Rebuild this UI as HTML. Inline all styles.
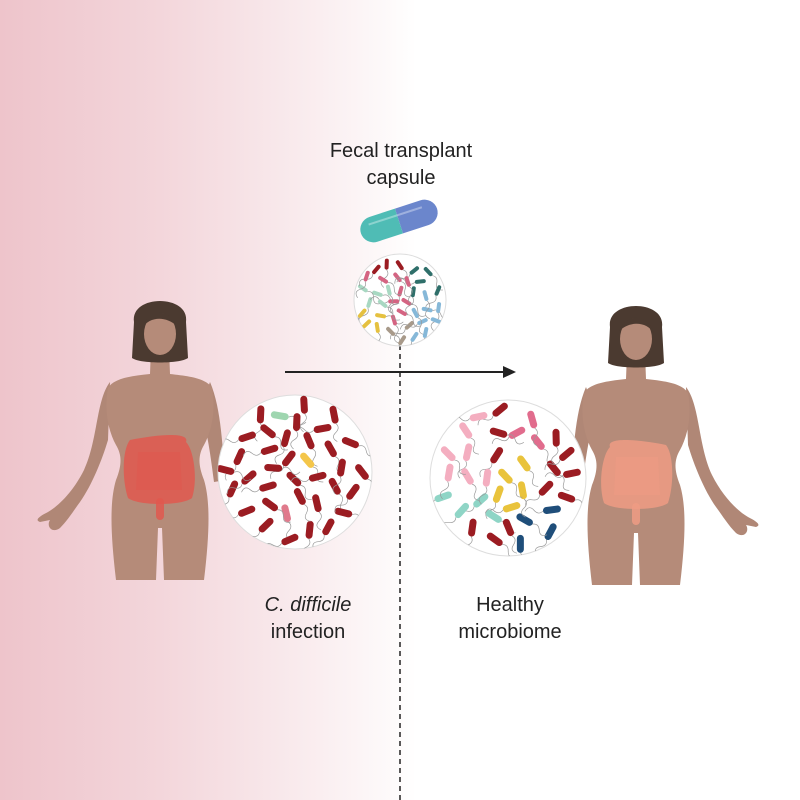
<!DOCTYPE html>
<html><head><meta charset="utf-8"><style>
html,body{margin:0;padding:0;width:800px;height:800px;overflow:hidden;background:#fff}
text{font-family:"Liberation Sans",sans-serif;fill:#222}
</style></head><body>
<svg id="s" width="800" height="800" viewBox="0 0 800 800" xmlns="http://www.w3.org/2000/svg">
<defs>
<linearGradient id="bg" x1="0" x2="1" y1="0" y2="0">
<stop offset="0" stop-color="#eec4cb"/><stop offset="0.2" stop-color="#f3d6db"/><stop offset="0.4" stop-color="#faeef0"/><stop offset="0.5" stop-color="#fefcfc"/><stop offset="0.52" stop-color="#fff"/></linearGradient>
<g id="fig">
<path d="M50,52 C64,70 62,110 76,140 C86,160 100,175 112,182 C120,186 126,190 120,192 L110,190 C114,196 108,204 100,198 C92,190 86,180 80,172 C68,155 58,130 52,110 Z" fill="#b08776"/>
<path d="M-50,52 C-62,80 -62,120 -66,150 L-54,152 C-50,120 -46,95 -40,80 Z" fill="#b08776"/>
<path d="M-9,18 L9,18 L10,44 C28,46 46,48 52,58 C56,80 52,100 44,115 C38,125 38,135 44,150 C50,170 50,200 44,250 L4,250 L2,198 L-2,198 L-4,250 L-44,250 C-50,200 -50,170 -44,150 C-38,135 -38,125 -44,115 C-52,100 -56,80 -52,58 C-46,48 -28,46 -10,44 Z" fill="#b58b79"/>
<path d="M-26,-8 C-30,-36 30,-36 26,-8 L28,28 C20,34 -20,34 -28,28 Z" fill="#4b3a30"/>
<ellipse cx="0" cy="4" rx="16" ry="21" fill="#b58b79"/>
<path d="M-17,-4 C-10,-22 12,-22 18,-2 C10,-14 -6,-14 -17,-4Z" fill="#4b3a30"/>
<path d="M-26,112 C-30,102 0,104 30,110 C38,120 38,150 32,168 C22,176 -22,176 -32,168 C-38,150 -34,120 -26,112Z" fill="currentColor" opacity="0.85"/>
<path d="M-20,122 L22,122 L24,160 L-22,160Z" fill="currentColor" opacity="0.6"/>
<rect x="-4" y="168" width="8" height="22" rx="4" fill="currentColor" opacity="0.85"/>
</g>
<clipPath id="c1"><circle cx="295" cy="472" r="77"/></clipPath>
<clipPath id="c2"><circle cx="508" cy="478" r="78"/></clipPath>
<clipPath id="c3"><circle cx="400" cy="300" r="46"/></clipPath>
</defs>
<rect width="800" height="800" fill="url(#bg)"/>
<g color="#e0584f"><use href="#fig" transform="translate(160,330) scale(-1,1)"/></g>
<g color="#ee9b84"><use href="#fig" transform="translate(636,335)"/></g>
<line x1="400" y1="345" x2="400" y2="800" stroke="#222" stroke-width="1.5" stroke-dasharray="5,4"/>
<line x1="285" y1="372" x2="508" y2="372" stroke="#222" stroke-width="2"/>
<path d="M516,372 L503,366 L503,378Z" fill="#222"/>
<g id="circ"></g>
<g transform="translate(399,221) rotate(-18)">
<path d="M0,-13 L-27,-13 A13,13 0 0 0 -27,13 L0,13Z" fill="#4fbcb5"/>
<path d="M0,-13 L27,-13 A13,13 0 0 1 27,13 L0,13Z" fill="#6b86cc"/>
<rect x="-30" y="-7" width="56" height="2" fill="#fff" opacity="0.35"/>
</g>
<text x="401" y="157" font-size="20" text-anchor="middle">Fecal transplant</text>
<text x="401" y="184" font-size="20" text-anchor="middle">capsule</text>
<text x="308" y="611" font-size="20" text-anchor="middle" font-style="italic">C. difficile</text>
<text x="308" y="638" font-size="20" text-anchor="middle">infection</text>
<text x="510" y="611" font-size="20" text-anchor="middle">Healthy</text>
<text x="510" y="638" font-size="20" text-anchor="middle">microbiome</text>
</svg>
<script>
var seed=7;function r(){seed=(seed*16807)%2147483647;return seed/2147483647;}
var NS="http://www.w3.org/2000/svg",root=document.getElementById("circ");
function circle(cx,cy,R,n,col,len,w,minD,clip){
 var c=document.createElementNS(NS,"circle");c.setAttribute("cx",cx);c.setAttribute("cy",cy);c.setAttribute("r",R);c.setAttribute("fill","#fff");c.setAttribute("stroke","#ddd");root.appendChild(c);
 var g=document.createElementNS(NS,"g");g.setAttribute("clip-path","url(#"+clip+")");root.appendChild(g);
 var pts=[],tries=0;
 while(pts.length<n&&tries<5000){tries++;var a=r()*6.283,d=Math.sqrt(r())*(R-len*0.4);var x=cx+Math.cos(a)*d,y=cy+Math.sin(a)*d;
  var ok=true;for(var j=0;j<pts.length;j++){var dx=pts[j][0]-x,dy=pts[j][1]-y;if(dx*dx+dy*dy<minD*minD){ok=false;break;}}
  if(!ok)continue;pts.push([x,y]);var i=pts.length-1;var ang=r()*180;
 var t=document.createElementNS(NS,"path");t.setAttribute("d","M"+(x+len/2)+","+y+" q5,-4 9,2 t9,0");t.setAttribute("stroke","#999");t.setAttribute("stroke-width","0.7");t.setAttribute("fill","none");t.setAttribute("transform","rotate("+ang+","+x+","+y+")");g.appendChild(t);
 var b=document.createElementNS(NS,"rect");b.setAttribute("x",x-len/2);b.setAttribute("y",y-w/2);b.setAttribute("width",len);b.setAttribute("height",w);b.setAttribute("rx",w/2);b.setAttribute("fill",col(x-cx,y-cy,i));b.setAttribute("transform","rotate("+ang+","+x+","+y+")");g.appendChild(b);}
}
circle(295,472,77,50,function(x,y,i){return i==5?"#9fd6b0":i==9?"#f4c64a":i==13?"#e07a8c":"#9b1c22";},18,7,18,"c1");
circle(508,478,78,48,function(x,y){if(x<-20&&y<0)return "#f4aec0";if(x<-10&&y>=0&&y<40)return "#8fd5c6";if(Math.abs(x)<30&&y>-20&&y<35)return "#e9c33c";if(x>10&&y>25)return "#1f4e7a";if(x>0&&y<-10&&x<40)return "#e16c8d";return "#9b1c22";},18,7,18,"c2");
circle(400,300,46,38,function(x,y){if(x<-15&&y>10)return "#e5c140";if(x<-10&&y<=10&&y>-20)return "#a8d8c2";if(x>10&&y<-5)return "#2f6f6a";if(x>10&&y>=-5)return "#86b8d8";if(y>25)return "#a89a8a";if(y<-28)return "#9b1c22";return "#d46482";},11,4,11,"c3");
</script>
</body></html>
